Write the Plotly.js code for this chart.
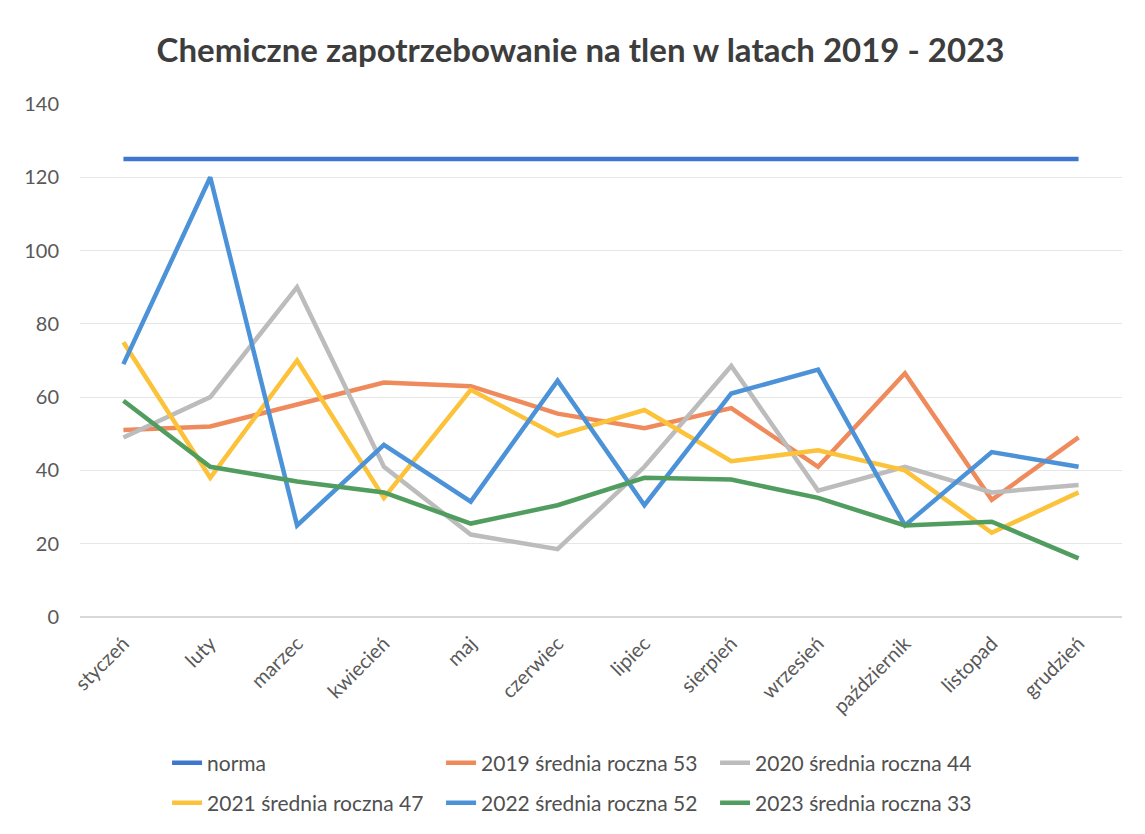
<!DOCTYPE html>
<html>
<head>
<meta charset="utf-8">
<script src="https://cdn.plot.ly/plotly-3.0.1.min.js"></script>
<style>html,body{margin:0;padding:0;background:#fff;}#chart{width:1145px;height:834px;}</style>
</head>
<body>
<div id="chart"></div>
<script>
const months = ["styczeń","luty","marzec","kwiecień","maj","czerwiec","lipiec","sierpień","wrzesień","październik","listopad","grudzień"];
const norma = [125,125,125,125,125,125,125,125,125,125,125,125];
const y2019 = [51,52,58,64,63,55.5,51.5,57,41,66.5,32,49];
const y2020 = [49,60,90,41,22.5,18.5,41,68.5,34.5,41,34,36];
const y2021 = [75,38,70,32.5,62,49.5,56.5,42.5,45.5,40,23,34];
const y2022 = [69,120,25,47,31.5,64.5,30.5,61,67.5,25,45,41];
const y2023 = [59,41,37,34,25.5,30.5,38,37.5,32.5,25,26,16];
const names = ["norma","2019 średnia roczna 53","2020 średnia roczna 44","2021 średnia roczna 47","2022 średnia roczna 52","2023 średnia roczna 33"];
const colors = ["#3f77cf","#ef8a5c","#bcbcbc","#fbc23a","#4c92d8","#519d5f"];
const series = [norma,y2019,y2020,y2021,y2022,y2023];

const traces = series.map((s,i)=>({
  type:"scatter", mode:"lines", x:months, y:s, name:names[i],
  line:{color:colors[i], width:4.5},
  legend: i < 3 ? "legend" : "legend2"
}));

const legendBase = {orientation:"h", xref:"container", yref:"container", xanchor:"left", yanchor:"middle",
  entrywidth:229, entrywidthmode:"pixels", font:{size:21, color:"#505050"}, bgcolor:"rgba(0,0,0,0)"};

const layout = {
  width:1145, height:834,
  paper_bgcolor:"#ffffff", plot_bgcolor:"#ffffff",
  font:{family:"Lato, 'Liberation Sans', Arial, sans-serif", color:"#595959", size:19},
  title:{text:"<b>Chemiczne zapotrzebowanie na tlen w latach 2019 - 2023</b>", x:0.507, xanchor:"center", y:0.94, yanchor:"middle",
         font:{size:33, color:"#3d3d3d", family:"Lato, 'Liberation Sans', Arial, sans-serif"}},
  margin:{l:80, r:23, t:104, b:217},
  xaxis:{type:"category", range:[-0.5,11.5], tickangle:-45, showgrid:false, showline:false, zeroline:false,
         ticks:"", ticklabelstandoff:10, tickfont:{size:20, color:"#595959"}},
  yaxis:{range:[0,140], dtick:20, tick0:0, showgrid:true, gridcolor:"#e6e6e6", gridwidth:1,
         zeroline:true, zerolinecolor:"#d9d9d9", zerolinewidth:1.5, showline:false, ticks:"",
         ticklabelstandoff:20, tickfont:{size:20, color:"#595959"}},
  showlegend:true,
  legend:Object.assign({}, legendBase, {x:0.1459, y:1-763/834}),
  legend2:Object.assign({}, legendBase, {x:0.1459, y:1-803/834})
};
Plotly.newPlot("chart", traces, layout, {displayModeBar:false, staticPlot:true});
</script>
</body>
</html>
